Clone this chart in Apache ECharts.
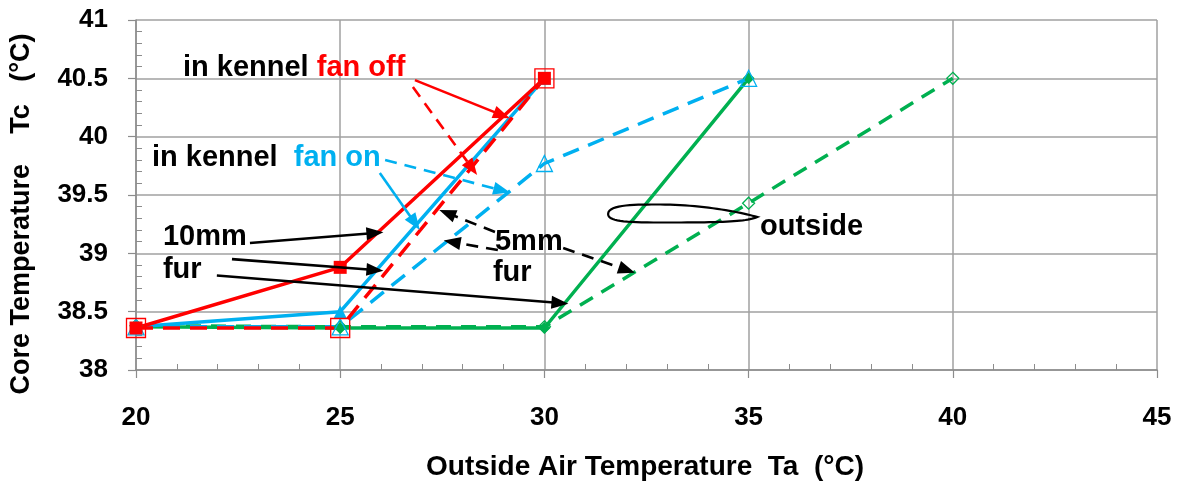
<!DOCTYPE html>
<html><head><meta charset="utf-8">
<script src="https://cdn.jsdelivr.net/npm/echarts@6.0.0/dist/echarts.min.js"></script>
<style>html,body{margin:0;padding:0;background:#fff}#c{width:1180px;height:481px}</style>
</head><body><div id="c"></div>
<script>
// ---- data ----
const xValues = [20, 25, 30, 35, 40];
const xTicks = [20, 25, 30, 35, 40, 45];
const yTicks = [38, 38.5, 39, 39.5, 40, 40.5, 41];
const red10 = [38.36, 38.88, 40.5];          // in kennel fan off, 10mm fur
const red5 = [38.36, 38.36, 40.5];           // in kennel fan off, 5mm fur
const blue10 = [38.37, 38.5, 40.5];          // in kennel fan on, 10mm fur
const blue5 = [38.37, 38.37, 39.77, 40.5];   // in kennel fan on, 5mm fur
const green10 = [38.37, 38.36, 38.36, 40.5]; // outside, 10mm fur
const green5 = [38.38, 38.37, 38.37, 39.43, 40.5]; // outside, 5mm fur
const yTitle = 'Core Temperature    Tc   (°C)';
const xTitle = 'Outside Air Temperature  Ta  (°C)';
// annotation texts: [x, y, formatter]
const notes = [
  [21.15, 40.588, '{k|in kennel} {r|fan off}'],
  [20.39, 39.817, '{k|in kennel}  {b|fan on}'],
  [20.66, 39.14, '{k|10mm}'],
  [20.66, 38.857, '{k|fur}'],
  [28.79, 39.097, '{k|5mm}'],
  [28.74, 38.83, '{k|fur}'],
  [35.28, 39.225, '{k|outside}']
];
// annotation arrows: [x1, y1, x2, y2, colour, dashed]
const arrows = [
  [26.83, 40.485, 28.96, 40.185, '#FF0000', false],
  [26.78, 40.425, 28.23, 39.73, '#FF0000', true],
  [26.10, 39.80, 28.96, 39.54, '#00B0F0', true],
  [25.97, 39.688, 26.83, 39.26, '#00B0F0', false],
  [22.79, 39.088, 25.85, 39.174, '#000000', false],
  [22.35, 38.95, 25.85, 38.857, '#000000', false],
  [21.98, 38.81, 30.38, 38.574, '#000000', false],
  [28.79, 39.183, 27.62, 39.345, '#000000', true],
  [28.86, 39.028, 27.74, 39.097, '#000000', true],
  [30.46, 39.045, 32.02, 38.857, '#000000', true]
];
// ellipse ends (data coords)
const ellipseL = [31.56, 39.337];
const ellipseR = [35.21, 39.32];

const RED = '#FF0000', BLUE = '#00B0F0', GREEN = '#00B050';
const FONT = "'Liberation Sans', Arial, sans-serif";
const GRID = '#A0A0A0';
const NOTE_SIZE = 29;
function pairs(ys) { return ys.map((y, i) => [xValues[i], y]); }

function lineSeries(name, ys, color, dash, symbol, size, hollow) {
  return {
    name, type: 'line', data: pairs(ys), symbol, symbolSize: size,
    lineStyle: { color, width: 3.5, type: dash || 'solid' },
    itemStyle: hollow ? { color: 'rgba(255,255,255,0)', borderColor: color, borderWidth: 1.3 }
                      : { color, borderWidth: 0 },
    emphasis: { disabled: true }, silent: true, z: 3
  };
}

const chart = echarts.init(document.getElementById('c'), null, { renderer: 'canvas' });

const axisCommon = {
  axisLine: { show: true, lineStyle: { color: '#8C8C8C', width: 1.5 } },
  axisTick: { show: true, inside: false, length: 8, lineStyle: { color: '#8C8C8C', width: 1.2 } },
  minorTick: { show: true, splitNumber: 5, length: -6, lineStyle: { color: '#8C8C8C', width: 1 } },
  splitLine: { show: true, lineStyle: { color: GRID, width: 1.5 } },
  axisLabel: { color: '#000', fontFamily: FONT, fontWeight: 'bold', fontSize: 26 }
};

const richStyles = {
  k: { fontFamily: FONT, fontWeight: 'bold', fontSize: NOTE_SIZE, color: '#000' },
  r: { fontFamily: FONT, fontWeight: 'bold', fontSize: NOTE_SIZE, color: RED },
  b: { fontFamily: FONT, fontWeight: 'bold', fontSize: NOTE_SIZE, color: BLUE }
};

chart.setOption({
  animation: false,
  backgroundColor: '#fff',
  grid: { left: 136, right: 23, top: 20, bottom: 111, containLabel: false },
  xAxis: Object.assign({}, axisCommon, {
    type: 'value', min: xTicks[0], max: xTicks[xTicks.length - 1], interval: 5,
    axisLabel: Object.assign({}, axisCommon.axisLabel, { margin: 35 })
  }),
  yAxis: Object.assign({}, axisCommon, {
    type: 'value', min: yTicks[0], max: yTicks[yTicks.length - 1], interval: 0.5,
    axisLabel: Object.assign({}, axisCommon.axisLabel, { margin: 28, formatter: v => String(v) })
  }),
  series: [
    lineSeries('outside 5mm', green5, GREEN, [15, 10], 'diamond', 12, true),
    lineSeries('outside 10mm', green10, GREEN, null, 'diamond', 12, false),
    lineSeries('fan on 5mm', blue5, BLUE, [17, 10], 'triangle', 16, true),
    lineSeries('fan on 10mm', blue10, BLUE, null, 'triangle', 13, false),
    lineSeries('fan off 5mm', red5, RED, [17, 10], 'rect', 19, true),
    lineSeries('fan off 10mm', red10, RED, null, 'rect', 13, false),
    {
      name: 'notes', type: 'line', data: [], silent: true, z: 5,
      markLine: {
        silent: true, animation: false, label: { show: false }, emphasis: { disabled: true },
        data: arrows.map(a => [
          { coord: [a[0], a[1]], symbol: 'none',
            lineStyle: { color: a[4], width: 2.6, type: a[5] ? [12, 8] : 'solid' } },
          { coord: [a[2], a[3]], symbol: 'triangle', symbolSize: [13, 17] }
        ])
      },
      markPoint: {
        silent: true, animation: false,
        data: notes.map(n => ({
          coord: [n[0], n[1]], symbol: 'circle', symbolSize: 0,
          itemStyle: { color: 'rgba(0,0,0,0)' },
          label: {
            show: true, position: 'right', distance: 0, formatter: n[2],
            fontFamily: FONT, fontWeight: 'bold', fontSize: NOTE_SIZE, color: '#000',
            rich: richStyles
          }
        }))
      }
    }
  ]
});

function bez(p0, p1, p2, p3, n, out) {
  for (let i = 1; i <= n; i++) {
    const t = i / n, u = 1 - t;
    out.push([
      u * u * u * p0[0] + 3 * u * u * t * p1[0] + 3 * u * t * t * p2[0] + t * t * t * p3[0],
      u * u * u * p0[1] + 3 * u * u * t * p1[1] + 3 * u * t * t * p2[1] + t * t * t * p3[1]
    ]);
  }
}

function drawExtras() {
  const L = chart.convertToPixel({ gridIndex: 0 }, ellipseL);
  const R = chart.convertToPixel({ gridIndex: 0 }, ellipseR);
  const s = (R[0] - L[0]) / 149;
  const xl = L[0], yl = L[1], xr = R[0], yr = R[1];
  const pts = [[xl, yl]];
  const topMid = [xl + 52 * s, yl - 9.5];
  const botMid = [xl + 52 * s, yl + 8.5];
  bez([xl, yl], [xl, yl - 10], [xl + 30 * s, yl - 9.5], topMid, 16, pts);
  bez(topMid, [xl + 92 * s, yl - 9.5], [xl + 132 * s, yr - 4], [xr, yr + 1], 24, pts);
  bez([xr, yr + 1], [xl + 137 * s, yr + 6], [xl + 112 * s, yl + 8.5], botMid, 24, pts);
  bez(botMid, [xl + 15 * s, yl + 8.5], [xl, yl + 7], [xl, yl], 16, pts);
  chart.setOption({
    graphic: [
      { type: 'polygon', shape: { points: pts }, style: { fill: 'none', stroke: '#000', lineWidth: 2.2 }, z: 10, silent: true },
      { type: 'text', x: 22, y: 214, rotation: Math.PI / 2,
        style: { text: yTitle, fill: '#000', font: 'bold 27px ' + FONT, align: 'center', verticalAlign: 'middle' } },
      { type: 'text', x: 645, y: 467,
        style: { text: xTitle, fill: '#000', font: 'bold 28px ' + FONT, align: 'center', verticalAlign: 'middle' } }
    ]
  });
}
drawExtras();
</script></body></html>
